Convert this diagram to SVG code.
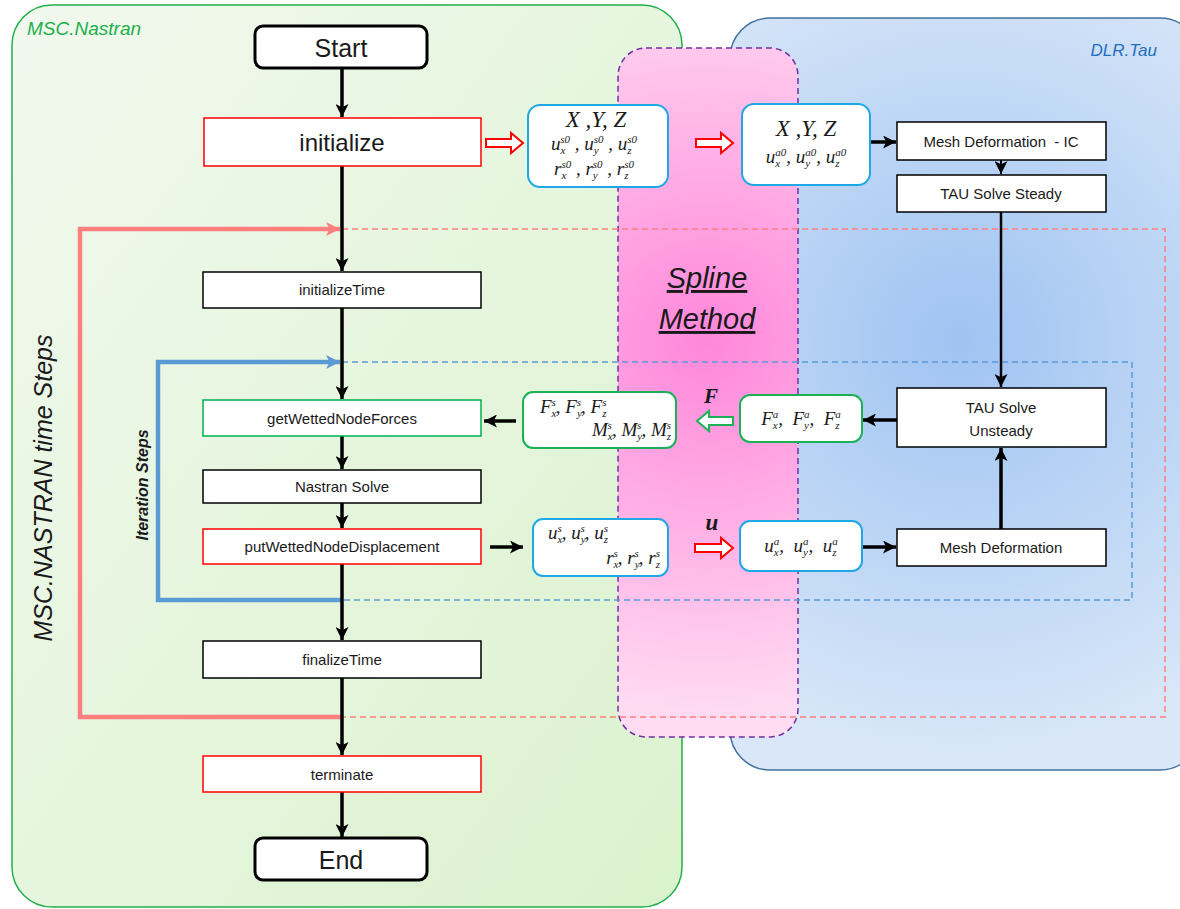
<svg xmlns="http://www.w3.org/2000/svg" width="1180" height="909" viewBox="0 0 1180 909">
<defs>
<linearGradient id="gGreen" x1="0" y1="0" x2="1" y2="1">
<stop offset="0" stop-color="#f1f9ee"/>
<stop offset="1" stop-color="#dbf2ce"/>
</linearGradient>
<radialGradient id="gBlue" cx="960" cy="340" r="420" gradientUnits="userSpaceOnUse">
<stop offset="0" stop-color="#9fc3f2"/>
<stop offset="1" stop-color="#d9e7f8"/>
</radialGradient>
<radialGradient id="gPink" cx="707" cy="340" r="380" gradientUnits="userSpaceOnUse">
<stop offset="0" stop-color="#ff86da"/>
<stop offset="1" stop-color="#ffdcf2"/>
</radialGradient>
<marker id="ab" viewBox="0 0 12 12" refX="12" refY="6" markerWidth="13" markerHeight="13" markerUnits="userSpaceOnUse" orient="auto">
<path d="M0,0 L12,6 L0,12 L3,6 Z" fill="#000"/>
</marker>
<marker id="ap" viewBox="0 0 12 12" refX="12" refY="6" markerWidth="14" markerHeight="14" markerUnits="userSpaceOnUse" orient="auto">
<path d="M0,0 L12,6 L0,12 L3,6 Z" fill="#ff7f7f"/>
</marker>
<marker id="abl" viewBox="0 0 12 12" refX="12" refY="6" markerWidth="14" markerHeight="14" markerUnits="userSpaceOnUse" orient="auto">
<path d="M0,0 L12,6 L0,12 L3,6 Z" fill="#5b9bd5"/>
</marker>
<style>
.box{fill:#fff;stroke:#000;stroke-width:1.5}
.red{stroke:#ff0000}
.grn{stroke:#00b050}
.term{fill:#fff;stroke:#000;stroke-width:3}
.mbox{fill:#fff;stroke-width:2}
.cy{stroke:#1fa8e6}
.cg{stroke:#1db157}
.t{font-family:"Liberation Sans",Arial,sans-serif;fill:#1a1a1a;text-anchor:middle}
.s15{font-size:15px}
.m{font-family:"Liberation Serif","DejaVu Serif",serif;font-style:italic;fill:#1a1a1a;font-size:19px}
.mx{font-size:23px}
.sb{font-size:11px}
.line{stroke:#000;stroke-width:3.5;fill:none}
.hol{fill:#fff;stroke-width:2}
</style>
</defs>

<g id="panels">
<rect id="nastranPanel" x="12" y="5" width="670" height="902" rx="40" fill="url(#gGreen)" stroke="#22b04b" stroke-width="1.5"/>
<rect id="tauPanel" x="730" y="18" width="470" height="752" rx="40" fill="url(#gBlue)" stroke="#41719c" stroke-width="1.5"/>
<rect id="splinePanel" x="618" y="48" width="180" height="689" rx="28" fill="url(#gPink)" stroke="#7030a0" stroke-width="1.5" stroke-dasharray="6,4"/>
</g>

<g id="labels">
<text x="27" y="35" font-family="Liberation Sans,Arial,sans-serif" font-style="italic" font-size="19" fill="#22b04b">MSC.Nastran</text>
<text x="1157" y="56" font-family="Liberation Sans,Arial,sans-serif" font-style="italic" font-size="17" fill="#1f6fbf" text-anchor="end">DLR.Tau</text>
<text transform="translate(52,488) rotate(-90)" font-family="Liberation Sans,Arial,sans-serif" font-style="italic" font-size="25" fill="#1a1a1a" text-anchor="middle">MSC.NASTRAN time Steps</text>
<text transform="translate(148,485) rotate(-90)" font-family="Liberation Sans,Arial,sans-serif" font-style="italic" font-weight="bold" font-size="16" fill="#1a1a1a" text-anchor="middle">Iteration Steps</text>
<text x="707" y="288" font-family="Liberation Sans,Arial,sans-serif" font-style="italic" font-size="29" fill="#1a1a1a" text-anchor="middle" text-decoration="underline">Spline</text>
<text x="707" y="329" font-family="Liberation Sans,Arial,sans-serif" font-style="italic" font-size="29" fill="#1a1a1a" text-anchor="middle" text-decoration="underline">Method</text>
</g>

<g id="connectors">
<path d="M342,229 H1165 V717 H342" fill="none" stroke="#ff7f7f" stroke-width="1.5" stroke-dasharray="6,4"/>
<path d="M342,362 H1132 V600 H342" fill="none" stroke="#5b9bd5" stroke-width="1.5" stroke-dasharray="6,4"/>
<path d="M342,717 H80 V229 H340" fill="none" stroke="#ff7f7f" stroke-width="4.5" marker-end="url(#ap)"/>
<path d="M342,600 H158 V362 H340" fill="none" stroke="#5b9bd5" stroke-width="4.5" marker-end="url(#abl)"/>
<line class="line" x1="342" y1="68" x2="342" y2="117" marker-end="url(#ab)"/>
<line class="line" x1="342" y1="166" x2="342" y2="271" marker-end="url(#ab)"/>
<line class="line" x1="342" y1="308" x2="342" y2="399" marker-end="url(#ab)"/>
<line class="line" x1="342" y1="436" x2="342" y2="469" marker-end="url(#ab)"/>
<line class="line" x1="342" y1="503" x2="342" y2="528" marker-end="url(#ab)"/>
<line class="line" x1="342" y1="564" x2="342" y2="640" marker-end="url(#ab)"/>
<line class="line" x1="342" y1="678" x2="342" y2="755" marker-end="url(#ab)"/>
<line class="line" x1="342" y1="792" x2="342" y2="837" marker-end="url(#ab)"/>
<line class="line" x1="870" y1="142" x2="896" y2="142" marker-end="url(#ab)"/>
<line stroke="#000" stroke-width="2" x1="1001" y1="160" x2="1001" y2="174" marker-end="url(#ab)"/>
<line stroke="#000" stroke-width="2.5" x1="1001" y1="212" x2="1001" y2="387" marker-end="url(#ab)"/>
<line class="line" x1="1001" y1="529" x2="1001" y2="448" marker-end="url(#ab)"/>
<line class="line" x1="897" y1="420" x2="863" y2="420" marker-end="url(#ab)"/>
<line class="line" x1="862" y1="547" x2="896" y2="547" marker-end="url(#ab)"/>
<line class="line" x1="516" y1="421" x2="484" y2="421" marker-end="url(#ab)"/>
<line class="line" x1="490" y1="547" x2="523" y2="547" marker-end="url(#ab)"/>
<path class="hol" stroke="#ff0000" d="M486,139 H511 V133 L523,143 L511,153 V147 H486 Z"/>
<path class="hol" stroke="#ff0000" d="M696,139 H721 V133 L733,143 L721,153 V147 H696 Z"/>
<path class="hol" stroke="#ff0000" d="M695,544 H721 V538 L733,548 L721,558 V552 H695 Z"/>
<path class="hol" stroke="#1db157" d="M733,417 H709 V411 L697,421 L709,431 V425 H733 Z"/>
<text x="711" y="403" font-family="Liberation Serif,serif" font-style="italic" font-weight="bold" font-size="21" fill="#1a1a1a" text-anchor="middle">F</text>
<text x="712" y="530" font-family="Liberation Serif,serif" font-style="italic" font-weight="bold" font-size="23" fill="#1a1a1a" text-anchor="middle">u</text>
</g>

<g id="start"><rect class="term" x="255" y="26" width="172" height="42" rx="8"/><text class="t" x="341" y="57" font-size="25">Start</text></g>
<g id="initialize"><rect class="box red" stroke-width="3" x="204" y="118" width="277" height="48"/><text class="t" x="342" y="151" font-size="24">initialize</text></g>
<g id="initializeTime"><rect class="box" x="203" y="272" width="278" height="36"/><text class="t s15" x="342" y="295">initializeTime</text></g>
<g id="getWettedNodeForces"><rect class="box grn" stroke-width="2" x="203" y="400" width="278" height="36"/><text class="t s15" x="342" y="424">getWettedNodeForces</text></g>
<g id="nastranSolve"><rect class="box" x="203" y="470" width="278" height="33"/><text class="t s15" x="342" y="492">Nastran Solve</text></g>
<g id="putWettedNodeDisplacement"><rect class="box red" stroke-width="2" x="203" y="529" width="278" height="35"/><text class="t s15" x="342" y="552">putWettedNodeDisplacement</text></g>
<g id="finalizeTime"><rect class="box" x="203" y="641" width="278" height="37"/><text class="t s15" x="342" y="665">finalizeTime</text></g>
<g id="terminate"><rect class="box red" stroke-width="2" x="203" y="756" width="278" height="36"/><text class="t s15" x="342" y="780">terminate</text></g>
<g id="end"><rect class="term" x="255" y="838" width="172" height="42" rx="8"/><text class="t" x="341" y="869" font-size="25">End</text></g>

<g id="meshDefIC"><rect class="box" x="897" y="122" width="209" height="38"/><text class="t s15" x="1001" y="147">Mesh Deformation&#160; - IC</text></g>
<g id="tauSteady"><rect class="box" x="897" y="175" width="209" height="37"/><text class="t s15" x="1001" y="199">TAU Solve Steady</text></g>
<g id="tauUnsteady"><rect class="box" x="897" y="388" width="209" height="59"/><text class="t s15" x="1001" y="413">TAU Solve</text><text class="t s15" x="1001" y="436">Unsteady</text></g>
<g id="meshDef"><rect class="box" x="897" y="529" width="209" height="37"/><text class="t s15" x="1001" y="553">Mesh Deformation</text></g>

<g id="structInit">
<rect class="mbox cy" x="528" y="105" width="140" height="82" rx="12"/>
<text class="m mx" x="596" y="127" text-anchor="middle">X ,Y, Z</text>
<text class="m" x="594" y="150" text-anchor="middle">u<tspan class="sb" dy="4">x</tspan><tspan class="sb" dx="-5" dy="-11">s0</tspan><tspan dy="7"> , u</tspan><tspan class="sb" dy="4">y</tspan><tspan class="sb" dx="-5" dy="-11">s0</tspan><tspan dy="7"> , u</tspan><tspan class="sb" dy="4">z</tspan><tspan class="sb" dx="-4.3" dy="-11">s0</tspan><tspan dy="7"></tspan></text>
<text class="m" x="594" y="175" text-anchor="middle">r<tspan class="sb" dy="4">x</tspan><tspan class="sb" dx="-5" dy="-11">s0</tspan><tspan dy="7"> , r</tspan><tspan class="sb" dy="4">y</tspan><tspan class="sb" dx="-5" dy="-11">s0</tspan><tspan dy="7"> , r</tspan><tspan class="sb" dy="4">z</tspan><tspan class="sb" dx="-4.3" dy="-11">s0</tspan><tspan dy="7"></tspan></text>
</g>
<g id="aeroInit">
<rect class="mbox cy" x="742" y="104" width="128" height="81" rx="12"/>
<text class="m mx" x="806" y="136" text-anchor="middle">X ,Y, Z</text>
<text class="m" x="806" y="163" text-anchor="middle">u<tspan class="sb" dy="4">x</tspan><tspan class="sb" dx="-5" dy="-11">a0</tspan><tspan dy="7">, u</tspan><tspan class="sb" dy="4">y</tspan><tspan class="sb" dx="-5" dy="-11">a0</tspan><tspan dy="7">, u</tspan><tspan class="sb" dy="4">z</tspan><tspan class="sb" dx="-4.3" dy="-11">a0</tspan><tspan dy="7"></tspan></text>
</g>
<g id="structForces">
<rect class="mbox cg" x="523" y="392" width="153" height="56" rx="10"/>
<text class="m" x="540" y="413">F<tspan class="sb" dy="4">x</tspan><tspan class="sb" dx="-5" dy="-11">s</tspan><tspan dy="7">, F</tspan><tspan class="sb" dy="4">y</tspan><tspan class="sb" dx="-5" dy="-11">s</tspan><tspan dy="7">, F</tspan><tspan class="sb" dy="4">z</tspan><tspan class="sb" dx="-4.3" dy="-11">s</tspan><tspan dy="7"></tspan></text>
<text class="m" x="671" y="436" text-anchor="end">M<tspan class="sb" dy="4">x</tspan><tspan class="sb" dx="-5" dy="-11">s</tspan><tspan dy="7">, M</tspan><tspan class="sb" dy="4">y</tspan><tspan class="sb" dx="-5" dy="-11">s</tspan><tspan dy="7">, M</tspan><tspan class="sb" dy="4">z</tspan><tspan class="sb" dx="-4.3" dy="-11">s</tspan><tspan dy="7"></tspan></text>
</g>
<g id="aeroForces">
<rect class="mbox cg" x="740" y="395" width="122" height="47" rx="10"/>
<text class="m" x="801" y="425" text-anchor="middle">F<tspan class="sb" dy="4">x</tspan><tspan class="sb" dx="-5" dy="-11">a</tspan><tspan dy="7">,&#160; F</tspan><tspan class="sb" dy="4">y</tspan><tspan class="sb" dx="-5" dy="-11">a</tspan><tspan dy="7">,&#160; F</tspan><tspan class="sb" dy="4">z</tspan><tspan class="sb" dx="-4.3" dy="-11">a</tspan><tspan dy="7"></tspan></text>
</g>
<g id="structDisp">
<rect class="mbox cy" x="533" y="519" width="135" height="57" rx="10"/>
<text class="m" x="548" y="539">u<tspan class="sb" dy="4">x</tspan><tspan class="sb" dx="-5" dy="-11">s</tspan><tspan dy="7">, u</tspan><tspan class="sb" dy="4">y</tspan><tspan class="sb" dx="-5" dy="-11">s</tspan><tspan dy="7">, u</tspan><tspan class="sb" dy="4">z</tspan><tspan class="sb" dx="-4.3" dy="-11">s</tspan><tspan dy="7"></tspan></text>
<text class="m" x="660" y="564" text-anchor="end">r<tspan class="sb" dy="4">x</tspan><tspan class="sb" dx="-5" dy="-11">s</tspan><tspan dy="7">, r</tspan><tspan class="sb" dy="4">y</tspan><tspan class="sb" dx="-5" dy="-11">s</tspan><tspan dy="7">, r</tspan><tspan class="sb" dy="4">z</tspan><tspan class="sb" dx="-4.3" dy="-11">s</tspan><tspan dy="7"></tspan></text>
</g>
<g id="aeroDisp">
<rect class="mbox cy" x="740" y="521" width="122" height="50" rx="10"/>
<text class="m" x="801" y="552" text-anchor="middle">u<tspan class="sb" dy="4">x</tspan><tspan class="sb" dx="-5" dy="-11">a</tspan><tspan dy="7">,&#160; u</tspan><tspan class="sb" dy="4">y</tspan><tspan class="sb" dx="-5" dy="-11">a</tspan><tspan dy="7">,&#160; u</tspan><tspan class="sb" dy="4">z</tspan><tspan class="sb" dx="-4.3" dy="-11">a</tspan><tspan dy="7"></tspan></text>
</g>
</svg>
